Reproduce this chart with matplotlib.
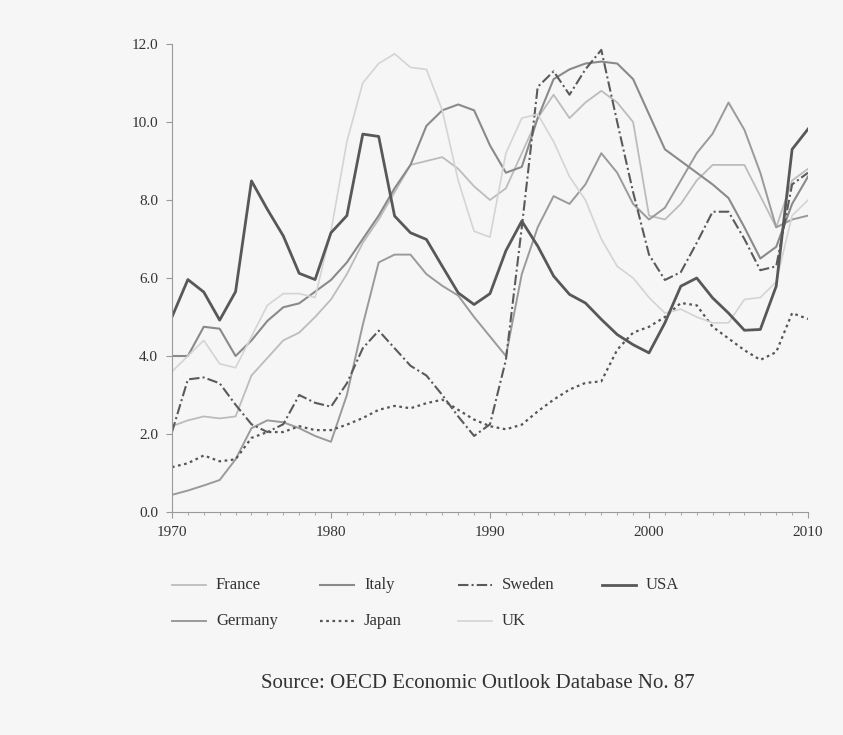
import matplotlib
matplotlib.use("Agg")
import matplotlib.pyplot as plt
from matplotlib.lines import Line2D

years = list(range(1970, 2011))

france = [2.2, 2.35, 2.45, 2.4, 2.45, 3.5, 3.95, 4.4, 4.6, 5.0, 5.45,
          6.1, 6.9, 7.5, 8.2, 8.9, 9.0, 9.1, 8.8, 8.35, 8.0,
          8.3, 9.2, 10.1, 10.7, 10.1, 10.5, 10.8, 10.5, 10.0, 7.6,
          7.5, 7.9, 8.5, 8.9, 8.9, 8.9, 8.1, 7.3, 8.5, 8.8]
germany = [0.44, 0.55, 0.68, 0.82, 1.35, 2.15, 2.35, 2.3, 2.15, 1.95, 1.8,
           3.0, 4.8, 6.4, 6.6, 6.6, 6.1, 5.8, 5.55, 5.0, 4.5,
           4.0, 6.1, 7.3, 8.1, 7.9, 8.4, 9.2, 8.7, 7.9, 7.5,
           7.8, 8.5, 9.2, 9.7, 10.5, 9.8, 8.7, 7.3, 7.5, 7.6]
italy = [4.0, 4.0, 4.75, 4.7, 4.0, 4.4, 4.9, 5.25, 5.35, 5.65, 5.95,
         6.4, 7.0, 7.6, 8.3, 8.9, 9.9, 10.3, 10.45, 10.3, 9.4,
         8.7, 8.85, 10.1, 11.1, 11.35, 11.5, 11.55, 11.5, 11.1, 10.2,
         9.3, 9.0, 8.7, 8.4, 8.05, 7.3, 6.5, 6.8, 7.9, 8.6]
japan = [1.15, 1.25, 1.45, 1.3, 1.35, 1.9, 2.05, 2.05, 2.2, 2.1, 2.1,
         2.24, 2.41, 2.62, 2.72, 2.66, 2.79, 2.88, 2.62, 2.37, 2.2,
         2.12, 2.24, 2.58, 2.88, 3.14, 3.31, 3.35, 4.16, 4.6, 4.75,
         5.0, 5.36, 5.3, 4.75, 4.45, 4.15, 3.9, 4.1, 5.1, 4.95]
sweden = [2.05, 3.4, 3.45, 3.3, 2.75, 2.25, 2.05, 2.25, 3.0, 2.8, 2.7,
          3.3, 4.2, 4.65, 4.2, 3.75, 3.5, 3.0, 2.45, 1.95, 2.25,
          3.9, 7.3, 10.9, 11.3, 10.7, 11.35, 11.85, 10.0, 8.2, 6.6,
          5.95, 6.15, 6.9, 7.7, 7.7, 7.0, 6.2, 6.3, 8.4, 8.7]
uk = [3.6, 4.0, 4.4, 3.8, 3.7, 4.5, 5.3, 5.6, 5.6, 5.5, 7.2,
      9.5, 11.0, 11.5, 11.75, 11.4, 11.35, 10.3, 8.5, 7.2, 7.05,
      9.2, 10.1, 10.2, 9.5, 8.6, 8.0, 7.0, 6.3, 6.0, 5.5,
      5.1, 5.2, 5.0, 4.85, 4.85, 5.45, 5.5, 5.9, 7.6, 8.0]
usa = [5.0, 5.96, 5.64, 4.92, 5.65, 8.49, 7.76, 7.08, 6.12, 5.96, 7.16,
       7.6, 9.69, 9.63, 7.59, 7.16, 6.99, 6.3, 5.62, 5.32, 5.6,
       6.7, 7.46, 6.82, 6.05, 5.58, 5.36, 4.94, 4.55, 4.29, 4.08,
       4.85, 5.79, 6.0, 5.49, 5.1, 4.66, 4.68, 5.79, 9.3, 9.82]

serif = ["Liberation Serif", "DejaVu Serif"]
plt.rcParams["font.family"] = serif
bg = "#f6f6f6"
txt = "#333333"

# name, values, colour, width, dash style
series = [
    ("France", france, "#bcbcbc", 1.3, "-"),
    ("Germany", germany, "#9a9a9a", 1.4, "-"),
    ("Italy", italy, "#8a8a8a", 1.5, "-"),
    ("Japan", japan, "#555555", 1.6, (0, (1.2, 1.6))),
    ("Sweden", sweden, "#5a5a5a", 1.5, (0, (5, 1.5, 1, 1.5))),
    ("UK", uk, "#d4d4d4", 1.2, "-"),
    ("USA", usa, "#585858", 2.0, "-"),
]

fig = plt.figure(figsize=(8.43, 7.35), dpi=100, facecolor=bg)
ax = fig.add_axes([0.204, 0.3034, 0.7545, 0.6367])
ax.set_facecolor(bg)

for name, vals, col, lw, ls in series:
    ax.plot(years, vals, color=col, lw=lw, ls=ls)

ax.set_xlim(1970, 2010)
ax.set_ylim(0, 12)
ax.set_xticks(range(1970, 2011, 10))
ax.set_xticks(range(1970, 2011), minor=True)
ax.set_yticks([0, 2, 4, 6, 8, 10, 12])
ax.set_yticklabels(["%.1f" % v for v in [0, 2, 4, 6, 8, 10, 12]])
for s in ["top", "right"]:
    ax.spines[s].set_visible(False)
for s in ["left", "bottom"]:
    ax.spines[s].set_color("#9a9a9a")
    ax.spines[s].set_linewidth(0.8)
ax.tick_params(axis="both", which="major", colors="#9a9a9a", labelcolor=txt,
               labelsize=11, length=4, width=0.8)
ax.tick_params(axis="x", which="major", pad=6)
ax.tick_params(axis="y", which="major", pad=6)
ax.tick_params(axis="x", which="minor", colors="#9a9a9a", length=2.5, width=0.6)

# legend, laid out by hand in pixel positions
W, H = 843.0, 735.0
legend_pos = {
    "France": (172, 585), "Italy": (320, 585), "Sweden": (458, 585), "USA": (602, 585),
    "Germany": (172, 621), "Japan": (320, 621), "UK": (458, 621),
}
for name, vals, col, lw, ls in series:
    px, py = legend_pos[name]
    fig.add_artist(Line2D([px / W, (px + 34) / W], [1 - py / H, 1 - py / H],
                          transform=fig.transFigure, color=col, lw=lw, ls=ls))
    fig.text((px + 44) / W, 1 - py / H, name, ha="left", va="center",
             fontsize=12, color=txt)

fig.text(0.567, 1 - 683 / H, "Source: OECD Economic Outlook Database No. 87",
         ha="center", va="center", fontsize=15, color=txt)

fig.savefig("out.png", dpi=100, facecolor=fig.get_facecolor())
